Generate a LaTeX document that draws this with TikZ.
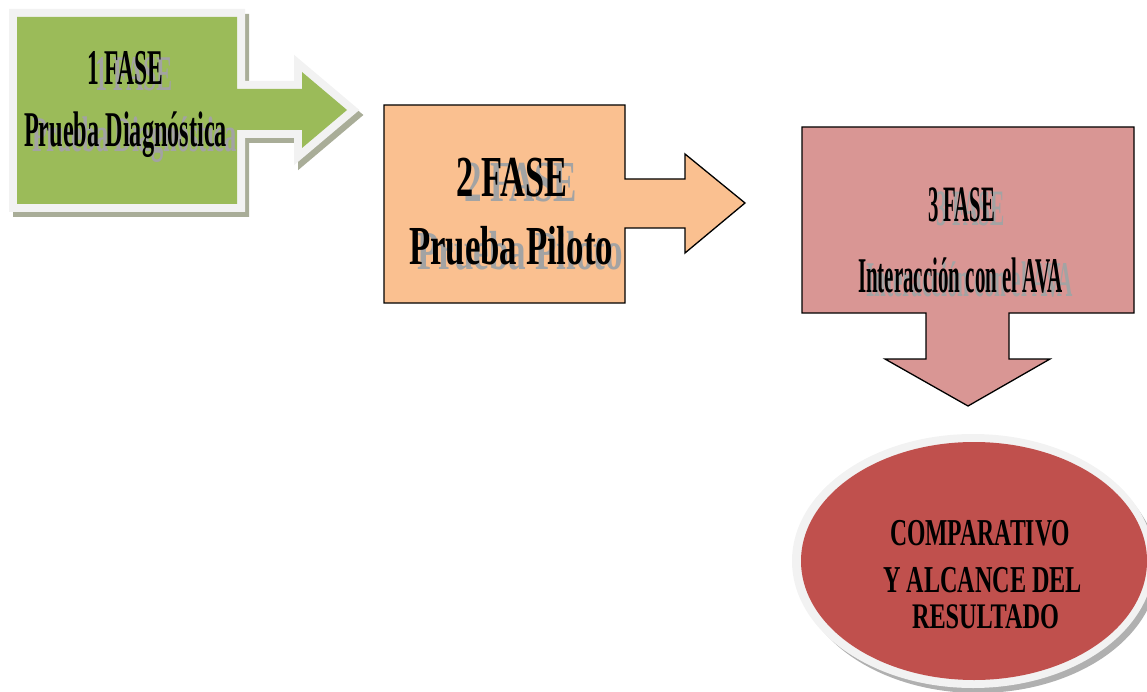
\documentclass[tikz,border=0pt]{standalone}
\usepackage{fontspec}
\setmainfont{Liberation Serif}
\usepackage{graphicx}
\definecolor{fgreen}{HTML}{9BBB59}
\definecolor{forange}{HTML}{FAC090}
\definecolor{fpink}{HTML}{D99694}
\definecolor{fred}{HTML}{C0504D}
\definecolor{rim}{HTML}{F2F2F2}
\definecolor{shade}{HTML}{A9AD98}
\definecolor{eshade}{HTML}{B0B0B0}
\definecolor{ghostgray}{HTML}{A3A3A3}
\newcommand\fitline[3]{\resizebox{#2pt}{\height}{\fontsize{#1}{#1}\selectfont\bfseries #3}}
\tikzset{
  txt/.style={anchor=base west, inner sep=0pt, outer sep=0pt, text=black},
  ghosttxt/.style={anchor=base west, inner sep=0pt, outer sep=0pt, text=ghostgray},
  boxline/.style={draw=black, line width=1.3pt, line join=miter},
}
\begin{document}
\begin{tikzpicture}[x=1pt,y=-1pt]
\useasboundingbox (0,0) rectangle (1147,692);
\begin{scope}
\clip (0,0) rectangle (1147,692);
% ---- shape 1 (green, with rim and shadow)
\def\shapeone{(17,17) -- (237,17) -- (237,89) -- (302,89) -- (302,72) -- (347,110) -- (302,148) -- (302,130) -- (237,130) -- (237,204) -- (17,204) -- cycle}
\begin{scope}[shift={(4,5)}]
\filldraw[draw=shade, fill=shade, line width=16pt, line join=miter] \shapeone;
\end{scope}
\filldraw[draw=rim, fill=rim, line width=16pt, line join=miter] \shapeone;
\fill[fgreen] \shapeone;
% ---- shape 2 (orange)
\filldraw[boxline, fill=forange] (384,105) -- (625,105) -- (625,179) -- (685,179) -- (685,154) -- (745,203) -- (685,253) -- (685,228) -- (625,228) -- (625,303) -- (384,303) -- cycle;
% ---- shape 3 (pink)
\filldraw[boxline, fill=fpink] (802,127) -- (1134,127) -- (1134,313) -- (1009,313) -- (1009,359) -- (1050,359) -- (968,406) -- (885,359) -- (926,359) -- (926,313) -- (802,313) -- cycle;
% ---- ellipse
\fill[eshade] (978,567) ellipse [x radius=180, y radius=126];
\fill[rim] (973,561) ellipse [x radius=181, y radius=127];
\fill[fred] (974,561) ellipse [x radius=173, y radius=119];
\end{scope}
% ---- texts shape 1
\node[ghosttxt] (g1a) at (95,91) {\fitline{50}{78}{1 FASE}};
\node[ghosttxt] (g1b) at (32,152) {\fitline{50}{205}{Prueba Diagnóstica}};
\node[txt] (t1a) at (87,85) {\fitline{50}{76}{1 FASE}};
\node[txt] (t1b) at (24,147) {\fitline{50}{203}{Prueba Diagnóstica}};
% ---- texts shape 2
\node[ghosttxt] (g2a) at (464,202) {\fitline{58}{113}{2 FASE}};
\node[ghosttxt] (g2b) at (417,270) {\fitline{55}{206}{Prueba Piloto}};
\node[txt] (t2a) at (456,197) {\fitline{58}{111}{2 FASE}};
\node[txt] (t2b) at (409,265) {\fitline{55}{204}{Prueba Piloto}};
% ---- texts shape 3
\node[ghosttxt] (g3a) at (936,226) {\fitline{51}{69}{3 FASE}};
\node[ghosttxt] (g3b) at (866,296) {\fitline{50}{207}{Interacción con el AVA}};
\node[txt] (t3a) at (928,222) {\fitline{51}{67}{3 FASE}};
\node[txt] (t3b) at (858,292) {\fitline{50}{205}{Interacción con el AVA}};
% ---- ellipse texts
\node[txt] (e1) at (890,545) {\fitline{38}{180}{COMPARATIVO}};
\node[txt] (e2) at (883,592) {\fitline{38}{199}{Y ALCANCE DEL}};
\node[txt] (e3) at (912,628) {\fitline{36}{147}{RESULTADO}};
\end{tikzpicture}
\end{document}
